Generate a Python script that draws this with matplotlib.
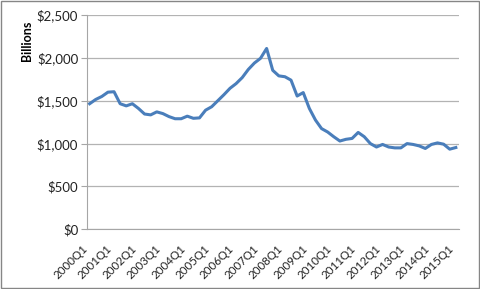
import matplotlib
matplotlib.use("Agg")
import matplotlib.pyplot as plt
import matplotlib.transforms as mtransforms
from matplotlib.ticker import FuncFormatter
from matplotlib.patches import Rectangle

years = list(range(2000, 2016))
quarters = [f"{y}Q{q}" for y in years for q in range(1, 5)][:61]

values = [1465, 1515, 1550, 1600, 1605, 1465, 1440, 1465, 1410, 1345,
          1335, 1370, 1350, 1315, 1290, 1290, 1320, 1295, 1300, 1390,
          1430, 1500, 1570, 1645, 1700, 1770, 1865, 1940, 1995, 2110,
          1855, 1790, 1780, 1740, 1555, 1595, 1410, 1275, 1175, 1135,
          1080, 1030, 1050, 1060, 1130, 1080, 1000, 960, 990, 960,
          950, 950, 1000, 990, 973, 943, 990, 1008, 993, 935, 954]

y_ticks = [0, 500, 1000, 1500, 2000, 2500]
tick_labels = [q for q in quarters if q.endswith("Q1")]

plt.rcParams['font.family'] = ['Lato', 'DejaVu Sans']

fig = plt.figure(figsize=(4.81, 2.89), dpi=100)
ax = fig.add_axes([0.180, 0.2066, 0.774, 0.7414])

x = list(range(len(values)))
ax.plot(x, values, color='#4A7EBB', linewidth=2.2, solid_joinstyle='round', zorder=3)

ax.set_xlim(-0.5, len(values) - 0.5)
ax.set_ylim(0, 2500)
ax.set_yticks(y_ticks)
ax.yaxis.set_major_formatter(FuncFormatter(lambda v, p: f"${int(v):,}"))
ax.grid(axis='y', color='#B3B3B3', linewidth=0.9)
ax.set_axisbelow(True)

tick_pos = [quarters.index(t) for t in tick_labels]
ax.set_xticks(tick_pos)
ax.set_xticklabels(tick_labels, rotation=45, ha='right', va='top')
shift = mtransforms.ScaledTranslation(3 / 100, 0, fig.dpi_scale_trans)
for lbl in ax.get_xticklabels():
    lbl.set_transform(lbl.get_transform() + shift)

for s in ['top', 'right']:
    ax.spines[s].set_visible(False)
ax.spines['left'].set_color('#A6A6A6')
ax.spines['bottom'].set_color('#A6A6A6')
ax.tick_params(axis='y', length=4, color='#A6A6A6', labelsize=9.5, pad=2, labelcolor='#222222')
ax.tick_params(axis='x', length=0, labelsize=8.3, pad=10, labelcolor='#222222')

ax.set_ylabel("Billions", fontsize=9, fontweight='bold')
ax.yaxis.set_label_coords(-0.145, 0.88)

fig.patches.append(Rectangle((0.002, 0.004), 0.994, 0.993, transform=fig.transFigure,
                             fill=False, edgecolor='#868686', linewidth=1.0))

fig.savefig("out.png", dpi=100)
